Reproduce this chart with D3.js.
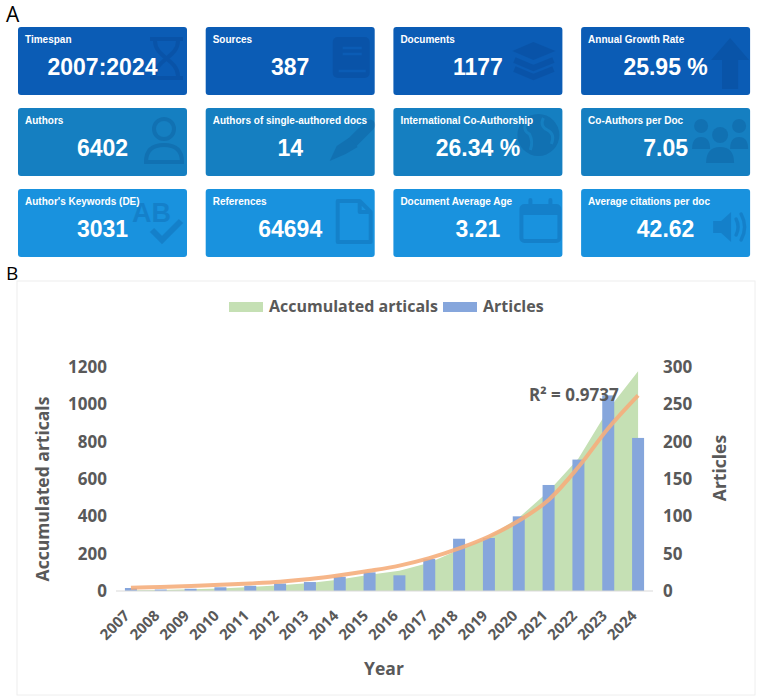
<!DOCTYPE html>
<html>
<head>
<meta charset="utf-8">
<script src="https://cdn.jsdelivr.net/npm/d3@7"></script>
<style>
  body { margin: 0; background: #fff; }
  svg { display: block; }
</style>
</head>
<body>
<div id="figure"></div>
<script>
// ---- data ----
var years = ["2007", "2008", "2009", "2010", "2011", "2012", "2013", "2014", "2015",
             "2016", "2017", "2018", "2019", "2020", "2021", "2022", "2023", "2024"];
var articles = [4, 2, 3, 5, 7, 10, 12, 19, 25, 21, 43, 70, 71, 100, 142, 176, 262, 205];
var accumulated = [4, 6, 9, 14, 21, 31, 43, 62, 87, 108, 151, 221, 292, 392, 534, 710, 972, 1177];
// exponential trendline as drawn in the figure (Articles axis)
var trend = [4.5, 5.5, 6.8, 8.3, 10.2, 12.5, 16, 21, 27, 34, 44, 57, 73, 94, 122, 166, 218, 262];
var leftTicks = [0, 200, 400, 600, 800, 1000, 1200];
var rightTicks = [0, 50, 100, 150, 200, 250, 300];
var legendLabels = ["Accumulated articals", "Articles"];
var r2Label = "R\u00b2 = 0.9737";

var cardTitles = ["Timespan", "Sources", "Documents", "Annual Growth Rate",
                  "Authors", "Authors of single-authored docs", "International Co-Authorship", "Co-Authors per Doc",
                  "Author's Keywords (DE)", "References", "Document Average Age", "Average citations per doc"];
var cardValues = ["2007:2024", "387", "1177", "25.95 %",
                  "6402", "14", "26.34 %", "7.05",
                  "3031", "64694", "3.21", "42.62"];
var cardIcons = ["hourglass", "book", "layers", "arrow",
                 "person", "pen", "globe", "people",
                 "abc", "file", "calendar", "speaker"];

var svg = d3.select("#figure")
  .append("svg")
  .attr("width", 761)
  .attr("height", 700);

// ---- panel A: summary cards ----
var rowColors = ["#0b5cb5", "#157fc1", "#1992de"];
var cardW = 169, cardH = 68;

svg.append("text")
  .attr("x", 6).attr("y", 22)
  .style("font-family", "'Open Sans', sans-serif")
  .style("font-size", "21px")
  .text("A");

var cards = svg.selectAll("g.card")
  .data(cardTitles)
  .enter()
  .append("g")
  .attr("class", "card")
  .attr("transform", function (d, i) {
    return "translate(" + (18 + (i % 4) * 187.7) + "," + (27 + Math.floor(i / 4) * 81) + ")";
  });

cards.append("rect")
  .attr("width", cardW)
  .attr("height", cardH)
  .attr("rx", 3)
  .style("fill", function (d, i) { return rowColors[Math.floor(i / 4)]; });

cards.each(function (d, i) {
  drawIcon(d3.select(this), cardIcons[i], rowColors[Math.floor(i / 4)]);
});

cards.append("text")
  .attr("x", 7).attr("y", 16)
  .style("font-family", "'Liberation Sans', Arial, sans-serif")
  .style("font-weight", "bold")
  .style("font-size", "10px")
  .style("fill", "#fff")
  .text(function (d) { return d; });

cards.append("text")
  .attr("x", cardW / 2).attr("y", 48)
  .attr("text-anchor", "middle")
  .style("font-family", "'Liberation Sans', Arial, sans-serif")
  .style("font-weight", "bold")
  .style("font-size", "23px")
  .style("fill", "#fff")
  .text(function (d, i) { return cardValues[i]; });

// faint icons on the right of each card
function drawIcon(g, name, bg) {
  var ic = g.append("g").style("fill", "#002a66").style("stroke", "#002a66").style("opacity", 0.16);
  if (name == "hourglass") {
    ic.append("rect").attr("x", 132).attr("y", 10).attr("width", 33).attr("height", 4).style("stroke", "none");
    ic.append("rect").attr("x", 132).attr("y", 49).attr("width", 33).attr("height", 4).style("stroke", "none");
    ic.append("path").attr("d", "M137 14 C137 30 160 33 160 49 M160 14 C160 30 137 33 137 49")
      .style("fill", "none").style("stroke-width", 4);
  } else if (name == "book") {
    ic.append("rect").attr("x", 127).attr("y", 10).attr("width", 37).attr("height", 41).attr("rx", 5).style("stroke", "none");
    ic.append("path").attr("d", "M137 21 H156 M137 27 H156 M133 44 H160")
      .style("stroke", bg).style("stroke-width", 2.5);
  } else if (name == "layers") {
    ic.append("path").attr("d", "M119 24 L140 15 L162 24 L140 33 Z").style("stroke", "none");
    ic.append("path").attr("d", "M121 33 L140 41 L160 33 M121 42 L140 50 L160 42")
      .style("fill", "none").style("stroke-width", 6);
  } else if (name == "arrow") {
    ic.append("path").attr("d", "M149 11 L168 33 L157 33 L157 62 L141 62 L141 33 L130 33 Z").style("stroke", "none");
  } else if (name == "person") {
    ic.append("circle").attr("cx", 146).attr("cy", 21).attr("r", 10).style("fill", "none").style("stroke-width", 4);
    ic.append("path").attr("d", "M128 54 Q128 37 146 37 Q164 37 164 54 Z").style("fill", "none").style("stroke-width", 4);
  } else if (name == "pen") {
    ic.append("path").attr("d", "M164 17 L146 35").style("stroke-width", 11).style("stroke-linecap", "round");
    ic.append("path").attr("d", "M143 30 L152 39 L140 46 L124 53 L131 38 Z").style("stroke", "none");
  } else if (name == "globe") {
    ic.append("circle").attr("cx", 145).attr("cy", 27).attr("r", 21).style("stroke", "none");
    ic.append("path").attr("d", "M134 12 Q128 22 136 26 Q140 33 137 42 M150 10 Q146 18 154 22 Q162 26 158 36")
      .style("fill", "none").style("stroke", bg).style("stroke-width", 3);
  } else if (name == "people") {
    ic.append("circle").attr("cx", 120).attr("cy", 18).attr("r", 7).style("stroke", "none");
    ic.append("circle").attr("cx", 158).attr("cy", 18).attr("r", 7).style("stroke", "none");
    ic.append("circle").attr("cx", 139).attr("cy", 27).attr("r", 8).style("stroke", "none");
    ic.append("path").attr("d", "M111 41 Q111 29 120 29 Q129 29 129 41 Z M149 41 Q149 29 158 29 Q167 29 167 41 Z")
      .style("stroke", "none");
    ic.append("path").attr("d", "M125 55 Q125 39 139 39 Q153 39 153 55 Z").style("stroke", "none");
  } else if (name == "abc") {
    ic.append("text").attr("x", 114).attr("y", 33)
      .style("font-family", "'Liberation Sans', Arial, sans-serif").style("font-weight", "bold")
      .style("font-size", "27px").style("stroke", "none").text("AB");
    ic.append("path").attr("d", "M134 41 L144 51 L163 32").style("fill", "none").style("stroke-width", 6);
  } else if (name == "file") {
    ic.append("path").attr("d", "M132 12 L154 12 L165 23 L165 53 L132 53 Z M154 12 L154 23 L165 23")
      .style("fill", "none").style("stroke-width", 4).style("stroke-linejoin", "round");
  } else if (name == "calendar") {
    ic.append("rect").attr("x", 128).attr("y", 17).attr("width", 38).attr("height", 35).attr("rx", 3)
      .style("fill", "none").style("stroke-width", 4);
    ic.append("rect").attr("x", 128).attr("y", 17).attr("width", 38).attr("height", 9).style("stroke", "none");
    ic.append("path").attr("d", "M137 11 V21 M157 11 V21").style("stroke-width", 4).style("stroke-linecap", "round");
  } else if (name == "speaker") {
    ic.append("path").attr("d", "M132 32 L140 32 L150 23 L150 53 L140 44 L132 44 Z").style("stroke", "none");
    ic.append("path").attr("d", "M155 30 Q159 38 155 46 M160 25 Q167 38 160 51")
      .style("fill", "none").style("stroke-width", 3.5).style("stroke-linecap", "round");
  }
}

// ---- panel B: publications chart ----
var textColor = "#595959";
var chartFont = "'Open Sans', sans-serif";

svg.append("text")
  .attr("x", 6).attr("y", 280)
  .style("font-family", chartFont)
  .style("font-size", "19px")
  .text("B");

svg.append("rect")
  .attr("x", 17).attr("y", 281)
  .attr("width", 738).attr("height", 414)
  .style("fill", "none")
  .style("stroke", "#eeeeee");

var x = d3.scaleBand().domain(years).range([116, 653]);
var yLeft = d3.scaleLinear().domain([0, 1200]).range([591, 367]);
var yRight = d3.scaleLinear().domain([0, 300]).range([591, 367]);
function cx(d) { return x(d) + x.bandwidth() / 2; }

// accumulated area
var area = d3.area()
  .x(function (d, i) { return cx(years[i]); })
  .y0(yLeft(0))
  .y1(function (d) { return yLeft(d); });

svg.append("path")
  .datum(accumulated)
  .attr("d", area)
  .style("fill", "#c5e0b4");

// article bars
var barW = 12;
svg.selectAll(".bar")
  .data(articles)
  .enter()
  .append("rect")
  .attr("class", "bar")
  .attr("x", function (d, i) { return cx(years[i]) - barW / 2; })
  .attr("width", barW)
  .attr("y", function (d) { return yRight(d); })
  .attr("height", function (d) { return yRight(0) - yRight(d); })
  .style("fill", "#86a6dc");

// trendline
var line = d3.line()
  .x(function (d, i) { return cx(years[i]); })
  .y(function (d) { return yRight(d); })
  .curve(d3.curveCatmullRom);

svg.append("path")
  .datum(trend)
  .attr("d", line)
  .style("fill", "none")
  .style("stroke", "#f5ae7c")
  .style("stroke-width", 4)
  .style("opacity", 0.9);

// baseline
svg.append("line")
  .attr("x1", 116).attr("x2", 653)
  .attr("y1", yLeft(0)).attr("y2", yLeft(0))
  .style("stroke", "#d9d9d9");

// axes
function styleAxis(g, size) {
  g.select(".domain").remove();
  g.selectAll("text")
    .style("font-family", chartFont)
    .style("font-weight", "bold")
    .style("font-size", size)
    .style("fill", textColor);
}

svg.append("g")
  .attr("transform", "translate(116,0)")
  .call(d3.axisLeft(yLeft).tickValues(leftTicks).tickFormat(d3.format("d")).tickSize(0).tickPadding(9))
  .call(styleAxis, "17px");

svg.append("g")
  .attr("transform", "translate(653,0)")
  .call(d3.axisRight(yRight).tickValues(rightTicks).tickFormat(d3.format("d")).tickSize(0).tickPadding(10))
  .call(styleAxis, "17px");

var xAxis = svg.append("g")
  .attr("transform", "translate(0," + yLeft(0) + ")")
  .call(d3.axisBottom(x).tickSize(0))
  .call(styleAxis, "15px");

xAxis.selectAll("text")
  .attr("x", 0).attr("y", 0)
  .attr("dy", "0.35em")
  .attr("transform", "translate(-4,22) rotate(-45)")
  .style("text-anchor", "end");

// titles
function title(txt, tx, ty, rot) {
  svg.append("text")
    .attr("transform", "translate(" + tx + "," + ty + ")" + (rot ? " rotate(-90)" : ""))
    .attr("text-anchor", "middle")
    .attr("dy", rot ? "0.35em" : 0)
    .style("font-family", chartFont)
    .style("font-weight", "bold")
    .style("font-size", "17.5px")
    .style("fill", textColor)
    .text(txt);
}
title("Accumulated articals", 43, 489, true);
title("Articles", 720, 468, true);
title("Year", 384, 675, false);

svg.append("text")
  .attr("x", 529).attr("y", 401)
  .style("font-family", chartFont)
  .style("font-weight", "bold")
  .style("font-size", "17px")
  .style("fill", textColor)
  .text(r2Label);

// legend
var legendX = [229, 443];
var legendColors = ["#c5e0b4", "#86a6dc"];
var legend = svg.selectAll(".legend")
  .data(legendLabels)
  .enter()
  .append("g")
  .attr("class", "legend")
  .attr("transform", function (d, i) { return "translate(" + legendX[i] + ",302)"; });

legend.append("rect")
  .attr("width", 34).attr("height", 10)
  .style("fill", function (d, i) { return legendColors[i]; });

legend.append("text")
  .attr("x", 40).attr("y", 10)
  .style("font-family", chartFont)
  .style("font-weight", "bold")
  .style("font-size", "16px")
  .style("fill", textColor)
  .text(function (d) { return d; });
</script>
</body>
</html>
